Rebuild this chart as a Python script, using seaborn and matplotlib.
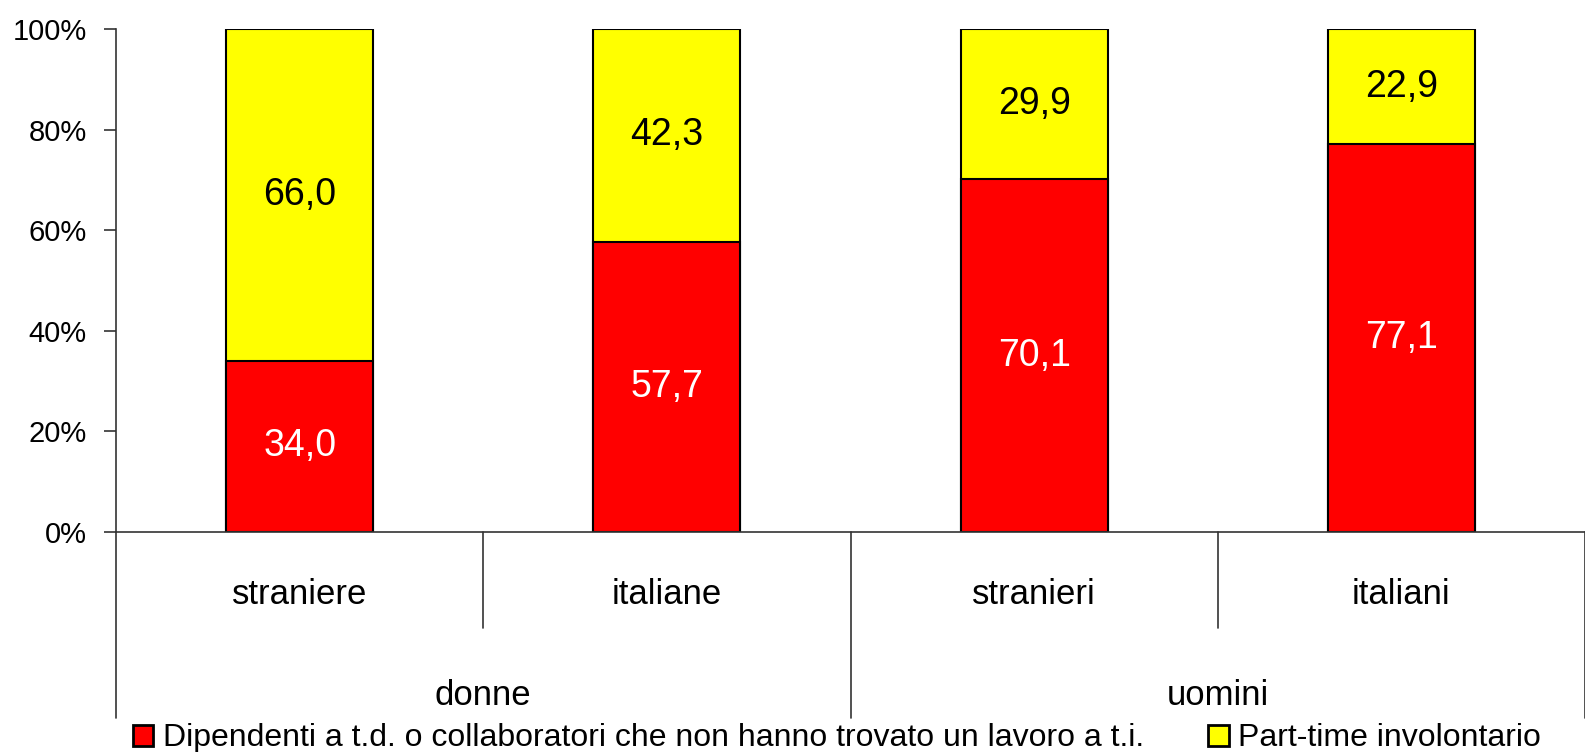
import matplotlib
matplotlib.use("Agg")
import matplotlib.pyplot as plt
import matplotlib.transforms as mtransforms
from matplotlib.patches import Patch
import seaborn as sns
import pandas as pd

categories = ["straniere", "italiane", "stranieri", "italiani"]
groups = ["donne", "uomini"]
group_sizes = [2, 2]
red_values = [34.0, 57.7, 70.1, 77.1]
yellow_values = [66.0, 42.3, 29.9, 22.9]
series_names = ["Dipendenti a t.d. o collaboratori che non hanno trovato un lavoro a t.i.",
                "Part-time involontario"]
yticks = [0, 20, 40, 60, 80, 100]

sns.set_style("white")
plt.rcParams["font.family"] = ["Liberation Sans", "DejaVu Sans"]
plt.rcParams["text.color"] = "black"
plt.rcParams["ytick.color"] = "black"
plt.rcParams["xtick.color"] = "black"

fig = plt.figure(figsize=(15.85, 7.52), dpi=100)
ax = fig.add_axes([0.0732, 0.2926, 0.9268, 0.6688])

df = pd.DataFrame({"cat": categories, "red": red_values, "yellow": yellow_values})
df["total"] = df["red"] + df["yellow"]

sns.barplot(data=df, x="cat", y="total", color="#FFFF00", edgecolor="black",
            linewidth=1.5, width=0.4, saturation=1, ax=ax)
sns.barplot(data=df, x="cat", y="red", color="#FF0000", edgecolor="black",
            linewidth=1.5, width=0.4, saturation=1, ax=ax)

ax.set_xlim(-0.5, len(categories) - 0.5)
ax.set_ylim(0, 100)
ax.set_yticks(yticks)
ax.set_yticklabels([f"{t}%" for t in yticks], fontsize=21, color="black")
ax.set_xlabel("")
ax.set_ylabel("")
ax.set_xticks([])
for s in ["top", "right"]:
    ax.spines[s].set_visible(False)
for s in ["left", "bottom"]:
    ax.spines[s].set_color("#333333")
    ax.spines[s].set_linewidth(1.2)
ax.tick_params(axis="y", left=True, length=9, width=1.2, color="#333333", pad=12)

# value labels
for i, (r, yv) in enumerate(zip(red_values, yellow_values)):
    ax.text(i, r / 2, f"{r:.1f}".replace(".", ","), ha="center", va="center",
            fontsize=27, color="white")
    ax.text(i, r + yv / 2, f"{yv:.1f}".replace(".", ","), ha="center", va="center",
            fontsize=27, color="black")

# two-level category axis
trans = mtransforms.blended_transform_factory(ax.transData, ax.transAxes)
for i, c in enumerate(categories):
    ax.text(i, -0.125, c, transform=trans, ha="center", va="center", fontsize=25,
            color="black")

start = 0
boundaries_long = [-0.5]
for g, n in zip(groups, group_sizes):
    center = start + (n - 1) / 2
    ax.text(center, -0.325, g, transform=trans, ha="center", va="center", fontsize=25,
            color="black")
    for k in range(1, n):
        x = start + k - 0.5
        ax.plot([x, x], [0, -0.191], transform=trans, color="#333333", lw=1.2,
                clip_on=False)
    start += n
    boundaries_long.append(start - 0.5)
for x in boundaries_long:
    ax.plot([x, x], [0, -0.37], transform=trans, color="#333333", lw=1.2,
            clip_on=False)

handles = [Patch(facecolor="#FF0000", edgecolor="black", linewidth=2),
           Patch(facecolor="#FFFF00", edgecolor="black", linewidth=2)]
leg = fig.legend(handles, series_names, loc="center", bbox_to_anchor=(0.528, 0.018),
                 ncol=2, frameon=False, fontsize=23, handlelength=0.65, handleheight=0.65,
                 handletextpad=0.3, columnspacing=2.0)
for t in leg.get_texts():
    t.set_color("black")

fig.savefig("out.png", dpi=100)
